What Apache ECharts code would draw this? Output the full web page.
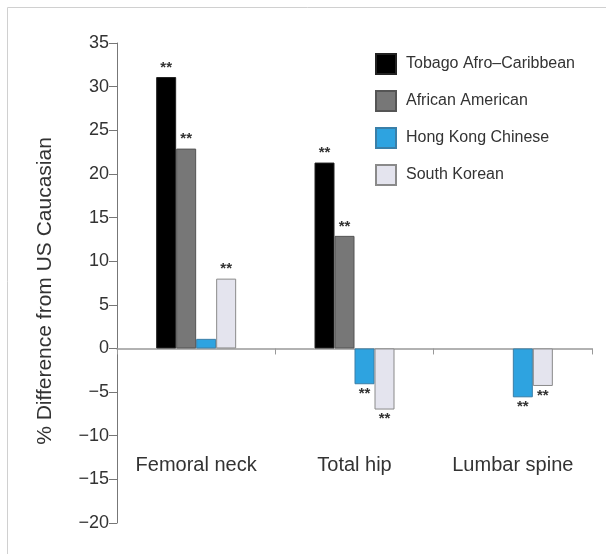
<!DOCTYPE html>
<html>
<head>
<meta charset="utf-8">
<script src="https://cdn.jsdelivr.net/npm/echarts@6/dist/echarts.min.js"></script>
<style>
  html, body { margin: 0; padding: 0; background: #fff; }
  #chart { width: 606px; height: 554px; }
</style>
</head>
<body>
<div id="chart"></div>
<script>
// sites
var categories = ['Femoral neck', 'Total hip', 'Lumbar spine'];
var seriesNames = ['Tobago Afro\u2013Caribbean', 'African American', 'Hong Kong Chinese', 'South Korean'];

// % difference from US Caucasian
var tobago   = [31.1, 21.3, null];
var african  = [22.9, 12.9, null];
var hongkong = [1.1, -4.1, -5.6];
var korean   = [8.0, -7.0, -4.3];

// significance marks
var tobagoSig   = ['**', '**', ''];
var africanSig  = ['**', '**', ''];
var hongkongSig = ['', '**', '**'];
var koreanSig   = ['**', '**', '**'];

var colors = ['#000000', '#777777', '#2ea3e0', '#e4e4ee'];
var borders = ['#222222', '#555555', '#3a7fa8', '#8a8a8a'];

var fontFam = '"Liberation Sans", Arial, sans-serif';

function mkData(vals, sigs) {
    return vals.map(function (v, i) {
        if (v === null) return '-';
        return {
            value: v,
            label: {
                show: sigs[i] !== '',
                formatter: sigs[i],
                position: v < 0 ? 'bottom' : 'top'
            }
        };
    });
}

function mkSeries(idx, vals, sigs) {
    return {
        name: seriesNames[idx],
        type: 'bar',
        barWidth: 20,
        barGap: '0%',
        itemStyle: {
            color: colors[idx],
            borderColor: borders[idx],
            borderWidth: 1
        },
        label: {
            distance: 2,
            fontSize: 15,
            fontWeight: 'bold',
            color: '#333',
            fontFamily: fontFam
        },
        data: mkData(vals, sigs)
    };
}

var chart = echarts.init(document.getElementById('chart'));

chart.setOption({
    animation: false,
    textStyle: { fontFamily: fontFam },
    grid: { left: 117, right: 14, top: 43, bottom: 31, containLabel: false, outerBoundsMode: 'none' },
    legend: {
        orient: 'vertical',
        left: 375,
        top: 53,
        padding: 0,
        itemWidth: 20,
        itemHeight: 20,
        itemGap: 15,
        icon: 'rect',
        textStyle: { fontSize: 16, color: '#333', padding: [0, 0, 0, 5] },
        data: seriesNames
    },
    graphic: [
        {
            type: 'rect',
            shape: { x: 7.5, y: 7.5, width: 640, height: 600 },
            style: { fill: 'none', stroke: '#d0d0d0', lineWidth: 1 },
            silent: true
        },
        {
            type: 'text',
            x: 45,
            y: 291,
            rotation: Math.PI / 2,
            style: {
                text: '% Difference from US Caucasian',
                fontSize: 21,
                fontFamily: fontFam,
                fill: '#333',
                align: 'center',
                verticalAlign: 'middle'
            }
        }
    ],
    xAxis: {
        type: 'category',
        data: categories,
        axisLine: { onZero: true, lineStyle: { color: '#999', width: 1.5 } },
        axisTick: { show: true, length: 6, lineStyle: { color: '#999' } },
        axisLabel: { margin: -68, fontSize: 20, color: '#333' },
        splitLine: { show: false }
    },
    yAxis: {
        type: 'value',
        min: -20,
        max: 35,
        interval: 5,
        axisLine: { show: true, lineStyle: { color: '#777' } },
        axisTick: { show: true, length: 8, lineStyle: { color: '#777' } },
        axisLabel: {
            margin: 8,
            fontSize: 18,
            color: '#333',
            formatter: function (v) { return String(v).replace('-', '\u2212'); }
        },
        splitLine: { show: false }
    },
    series: [
        mkSeries(0, tobago, tobagoSig),
        mkSeries(1, african, africanSig),
        mkSeries(2, hongkong, hongkongSig),
        mkSeries(3, korean, koreanSig)
    ]
});
</script>
</body>
</html>
